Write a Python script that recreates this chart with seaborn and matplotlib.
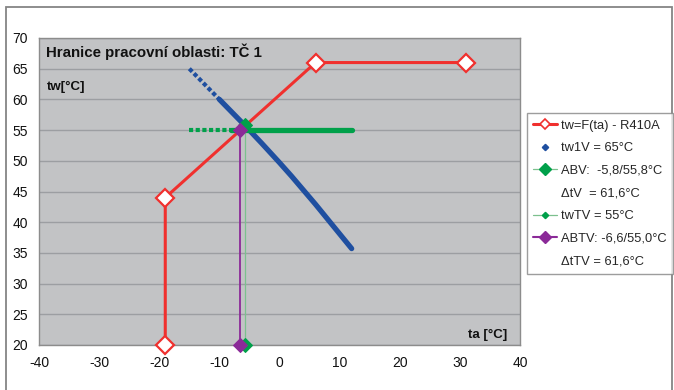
import numpy as np
import pandas as pd
import seaborn as sns
import matplotlib
matplotlib.use("Agg")
import matplotlib.pyplot as plt
from matplotlib.lines import Line2D
from matplotlib.patches import Rectangle

# Operating envelope of the heat pump (R410A)
envelope_ta = [-19, -19, 6, 31]
envelope_tw = [20, 44, 66, 66]

# tw1V curve (outlet temperature 65 °C)
tw1v_ta = [-15, -10, -5.8, -3, 0, 2, 4, 6, 8, 10, 12]
tw1v_tw = [65, 60.0, 55.8, 52.9, 49.7, 47.5, 45.2, 42.9, 40.5, 38.1, 35.7]
tw1v_sparse_end = 1          # index where the curve turns into a dense line

# twTV line (55 °C)
twtv_ta = [-15, -8, 12]
twtv_tw = [55, 55, 55]

# Balance points
abv_ta, abv_tw = -5.8, 55.8
abtv_ta, abtv_tw = -6.6, 55.0
y_floor = 20

x_ticks = list(range(-40, 41, 10))
y_ticks = list(range(20, 71, 5))

legend_labels = [
    "tw=F(ta) - R410A",
    "tw1V = 65°C",
    "ABV:  -5,8/55,8°C",
    "ΔtV  = 61,6°C",
    "twTV = 55°C",
    "ABTV: -6,6/55,0°C",
    "ΔtTV = 61,6°C",
]

RED = "#F0302E"
BLUE = "#1F4FA0"
GREEN = "#00A04A"
LGREEN = "#7CC08E"
PURPLE = "#8B2A98"
BG = "#C2C3C5"
GRID = "#9C9EA2"
FRAME = "#858585"

sns.set_theme(style="white")
plt.rcParams["font.family"] = ["Liberation Sans", "DejaVu Sans"]
plt.rcParams["axes.unicode_minus"] = False

fig = plt.figure(figsize=(6.74, 3.90), dpi=100)
ax = fig.add_axes([39 / 674, 1 - 345 / 390, (520 - 39) / 674, (345 - 38) / 390])
ax.set_facecolor(BG)

# outer chart frame
fig.patches.append(Rectangle((6 / 674, -0.1), (672 - 6) / 674, 1.1 - 7 / 390,
                             transform=fig.transFigure, fill=False,
                             edgecolor=FRAME, linewidth=1.3, zorder=0))

# tw1V curve: sparse dotted start, then thick line
curve = pd.DataFrame({"ta": tw1v_ta, "tw": tw1v_tw})
sns.lineplot(data=curve.iloc[:tw1v_sparse_end + 1], x="ta", y="tw", sort=False,
             estimator=None, ax=ax, color=BLUE, linewidth=3.0,
             linestyle=(0, (1.0, 0.6)), zorder=3)
sns.lineplot(data=curve.iloc[tw1v_sparse_end:], x="ta", y="tw", sort=False,
             estimator=None, ax=ax, color=BLUE, linewidth=3.8, zorder=3,
             solid_capstyle="round", solid_joinstyle="round")

# twTV line: sparse dotted start, then thick line
tv = pd.DataFrame({"ta": twtv_ta, "tw": twtv_tw})
sns.lineplot(data=tv.iloc[:2], x="ta", y="tw", sort=False, estimator=None, ax=ax,
             color=GREEN, linewidth=3.0, linestyle=(0, (1.0, 0.6)), zorder=3)
sns.lineplot(data=tv.iloc[1:], x="ta", y="tw", sort=False, estimator=None, ax=ax,
             color=GREEN, linewidth=3.8, zorder=3, solid_capstyle="round")

# envelope
env = pd.DataFrame({"ta": envelope_ta, "tw": envelope_tw})
sns.lineplot(data=env, x="ta", y="tw", sort=False, estimator=None, ax=ax,
             color=RED, linewidth=2.2, zorder=4, marker="D", markersize=9,
             markerfacecolor="white", markeredgecolor=RED, markeredgewidth=1.6,
             clip_on=False)

# balance point ABV
abv = pd.DataFrame({"ta": [abv_ta, abv_ta], "tw": [abv_tw, y_floor]})
sns.lineplot(data=abv, x="ta", y="tw", sort=False, estimator=None, ax=ax,
             color=LGREEN, linewidth=0.9, zorder=5, marker="D", markersize=7.5,
             markerfacecolor=GREEN, markeredgecolor=GREEN, clip_on=False)

# balance point ABTV
abtv = pd.DataFrame({"ta": [abtv_ta, abtv_ta], "tw": [abtv_tw, y_floor]})
sns.lineplot(data=abtv, x="ta", y="tw", sort=False, estimator=None, ax=ax,
             color=PURPLE, linewidth=1.3, zorder=6, marker="D", markersize=7.5,
             markerfacecolor=PURPLE, markeredgecolor=PURPLE, clip_on=False)

# axes styling
ax.set_xlim(-40, 40)
ax.set_ylim(20, 70)
ax.set_xticks(x_ticks)
ax.set_yticks(y_ticks)
ax.set_xlabel("")
ax.set_ylabel("")
ax.yaxis.grid(True, color=GRID, linewidth=1.0)
ax.xaxis.grid(False)
ax.set_axisbelow(True)
for s in ax.spines.values():
    s.set_color("#8C8C8C")
    s.set_linewidth(1.0)
ax.tick_params(axis="both", direction="out", length=4, width=1, color="#8C8C8C",
               labelsize=10, labelcolor="#111111", pad=4)

# text inside the plot area
ax.text(-38.9, 66.85, "Hranice pracovní oblasti: TČ 1", fontsize=10.8, fontweight="bold",
        ha="left", va="baseline", color="#111111")
ax.text(-38.7, 61.6, "tw[°C]", fontsize=9.5, fontweight="bold",
        ha="left", va="baseline", color="#111111")
ax.text(37.8, 21.2, "ta [°C]", fontsize=9.5, fontweight="bold",
        ha="right", va="baseline", color="#111111")

# legend
blank = Line2D([], [], linestyle="none", marker=None)
handles = [
    Line2D([], [], color=RED, linewidth=2.2, marker="D", markersize=5,
           markerfacecolor="white", markeredgecolor=RED, markeredgewidth=1.2),
    Line2D([], [], linestyle="none", color=BLUE, marker="D", markersize=3.2),
    Line2D([], [], color=LGREEN, linewidth=0.9, marker="D", markersize=6,
           markerfacecolor=GREEN, markeredgecolor=GREEN),
    blank,
    Line2D([], [], color=LGREEN, linewidth=0.9, marker="D", markersize=3.2,
           markerfacecolor=GREEN, markeredgecolor=GREEN),
    Line2D([], [], color=PURPLE, linewidth=1.5, marker="D", markersize=6,
           markerfacecolor=PURPLE, markeredgecolor=PURPLE),
    blank,
]
leg = fig.legend(handles, legend_labels, loc="upper left",
                 bbox_to_anchor=(527 / 674, 1 - 113 / 390), bbox_transform=fig.transFigure,
                 frameon=True, fancybox=False, shadow=False, fontsize=9.3,
                 handlelength=1.8, handletextpad=0.3, labelspacing=0.82,
                 borderpad=0.5, borderaxespad=0.0)
leg.get_frame().set_edgecolor(FRAME)
leg.get_frame().set_linewidth(1.0)
leg.get_frame().set_facecolor("white")

fig.savefig("out.png", dpi=100)
